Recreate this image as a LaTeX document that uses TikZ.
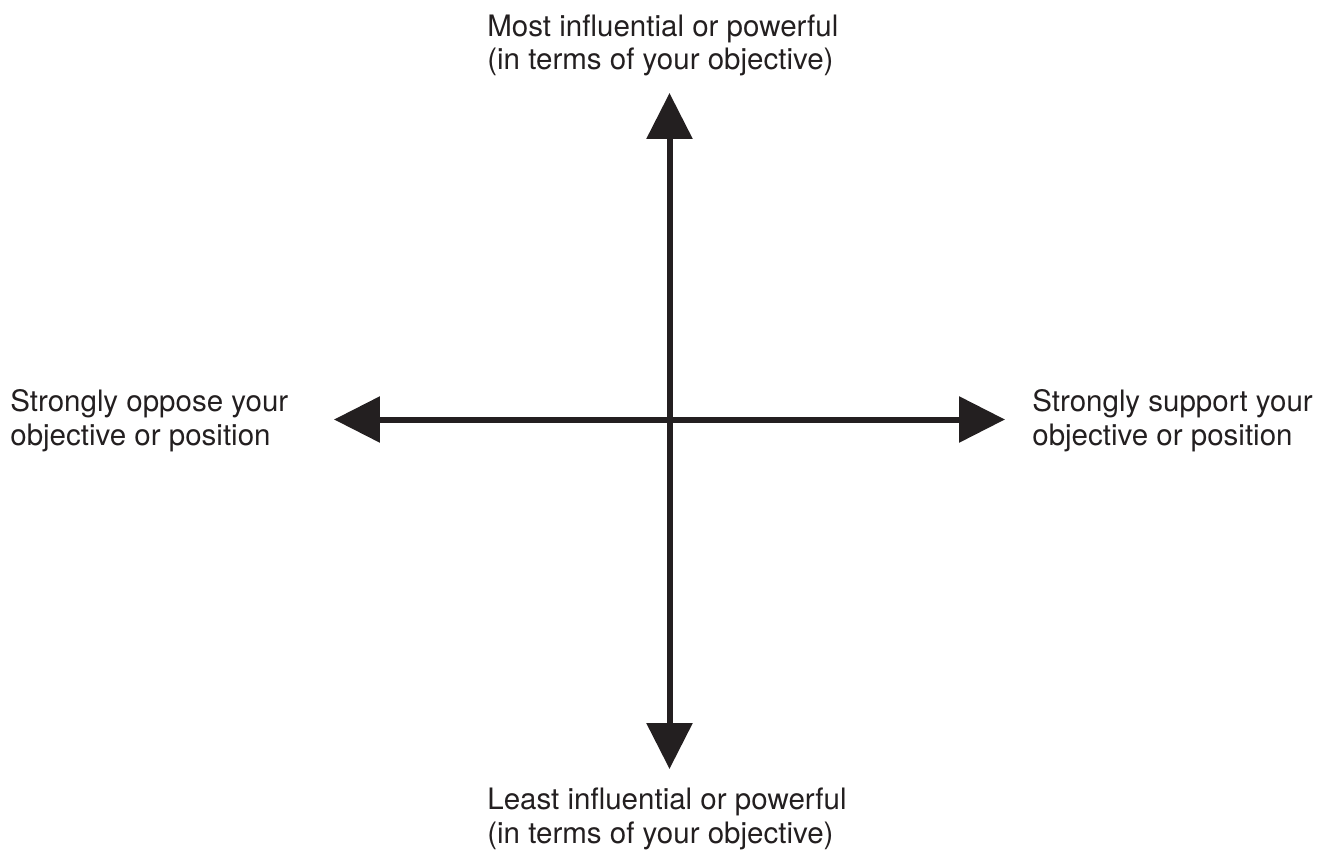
\documentclass[tikz,border=0pt]{standalone}
\usepackage{fontspec}
\setmainfont{TeX Gyre Heros}
\usepackage{xcolor}
\usepackage{tikz}
\usetikzlibrary{positioning,calc,arrows.meta}

\definecolor{ink}{HTML}{231F20}

\tikzset{
    axis/.style={line width=0.12cm, draw=ink, fill=ink,
        {Triangle[length=0.92cm,width=0.9cm]}-{Triangle[length=0.92cm,width=0.9cm]}},
    label/.style={text=ink, align=left, inner sep=0pt, anchor=base west,
        font=\fontsize{16.8pt}{18.8pt}\selectfont}
}

\begin{document}
\begin{tikzpicture}[x=0.02cm, y=-0.02cm]
    \useasboundingbox (0,0) rectangle (1325,851);

    % Axis ends
    \coordinate (top) at (669.5,93);
    \coordinate (bottom) at (669.5,769);
    \coordinate (left) at (334,419.5);
    \coordinate (right) at (1005,419.5);

    % Axes
    \draw[axis] (bottom) -- (top);
    \draw[axis] (left) -- (right);

    % Labels (base = last line)
    \node[label] (most) at (487,70) {Most influential or powerful\\(in terms of your objective)};
    \node[label] (least) at (487,843) {Least influential or powerful\\(in terms of your objective)};
    \node[label] (oppose) at (10,445) {Strongly oppose your\\objective or position};
    \node[label] (support) at (1032,445) {Strongly support your\\objective or position};
\end{tikzpicture}
\end{document}
